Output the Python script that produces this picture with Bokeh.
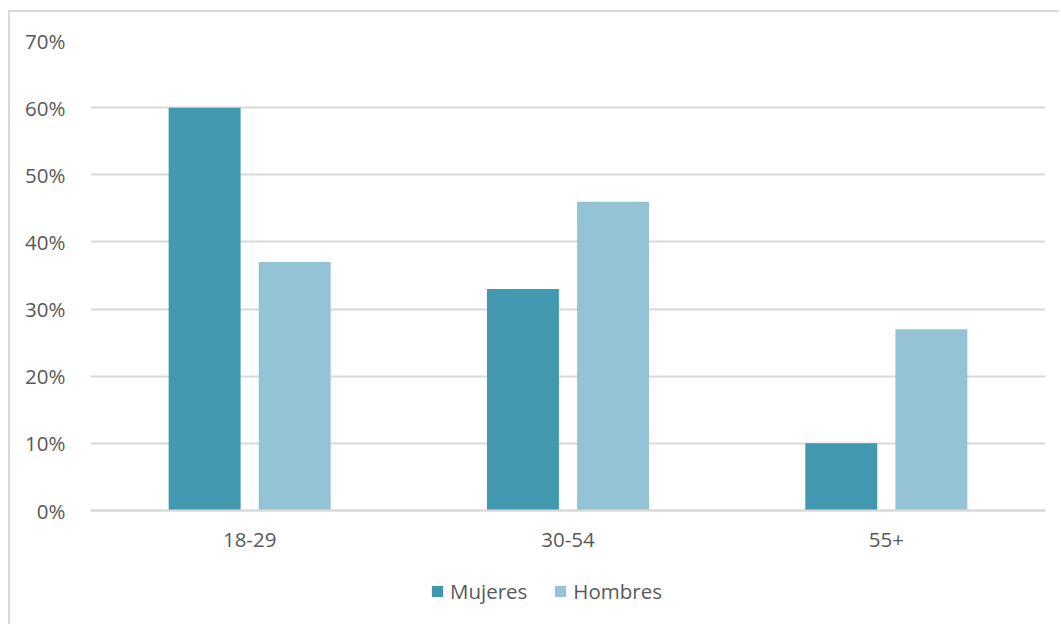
from bokeh.plotting import figure
from bokeh.models import ColumnDataSource, FixedTicker, NumeralTickFormatter, Legend, LegendItem
from bokeh.transform import dodge
from bokeh.embed import file_html
from bokeh.resources import INLINE

categories = ["18-29", "30-54", "55+"]
mujeres = [0.60, 0.33, 0.10]
hombres = [0.37, 0.46, 0.27]
y_ticks = [0.0, 0.1, 0.2, 0.3, 0.4, 0.5, 0.6, 0.7]

src = ColumnDataSource(dict(cat=categories, mujeres=mujeres, hombres=hombres))

FONT = "Open Sans"
TXT = "#595959"

p = figure(x_range=categories, y_range=(-0.1638, 0.7), width=1051, height=614,
           output_backend="svg", toolbar_location=None,
           min_border_left=80, min_border_top=28, min_border_right=16, min_border_bottom=6)
p.margin = (10, 0, 0, 8)
p.styles = {"border-top": "2px solid #d9d9d9", "border-left": "2px solid #d9d9d9"}
p.outline_line_color = None
p.x_range.range_padding = 0

r1 = p.vbar(x=dodge("cat", -0.1415, range=p.x_range), top="mujeres", width=0.226,
            source=src, fill_color="#4198AF", line_color=None)
r2 = p.vbar(x=dodge("cat", 0.1415, range=p.x_range), top="hombres", width=0.226,
            source=src, fill_color="#93C3D4", line_color=None)

p.yaxis.ticker = FixedTicker(ticks=y_ticks)
p.yaxis.formatter = NumeralTickFormatter(format="0%")
p.yaxis.axis_line_color = None
p.yaxis.major_tick_line_color = None
p.yaxis.minor_tick_line_color = None
p.yaxis.major_label_standoff = 19
p.xaxis.fixed_location = 0
p.xaxis.axis_line_color = "#d9d9d9"
p.xaxis.axis_line_width = 2
p.xaxis.major_tick_line_color = None
p.xaxis.minor_tick_line_color = None
p.xaxis.major_label_standoff = 16
for ax in (p.xaxis, p.yaxis):
    ax.major_label_text_font = FONT
    ax.major_label_text_font_size = "20.5px"
    ax.major_label_text_color = TXT

p.xgrid.grid_line_color = None
p.ygrid.grid_line_color = "#d9d9d9"
p.ygrid.grid_line_width = 2
p.ygrid.ticker = FixedTicker(ticks=y_ticks)

legend = Legend(items=[LegendItem(label="Mujeres", renderers=[r1]),
                       LegendItem(label="Hombres", renderers=[r2])],
                orientation="horizontal", location=(340, 15),
                padding=0, margin=0, spacing=26, label_standoff=6,
                glyph_width=14, glyph_height=14, label_height=22,
                label_text_font=FONT, label_text_font_size="20.5px", label_text_color=TXT,
                background_fill_alpha=0, border_line_color=None)
p.add_layout(legend, "center")

open("out.html", "w").write(file_html(p, INLINE))
